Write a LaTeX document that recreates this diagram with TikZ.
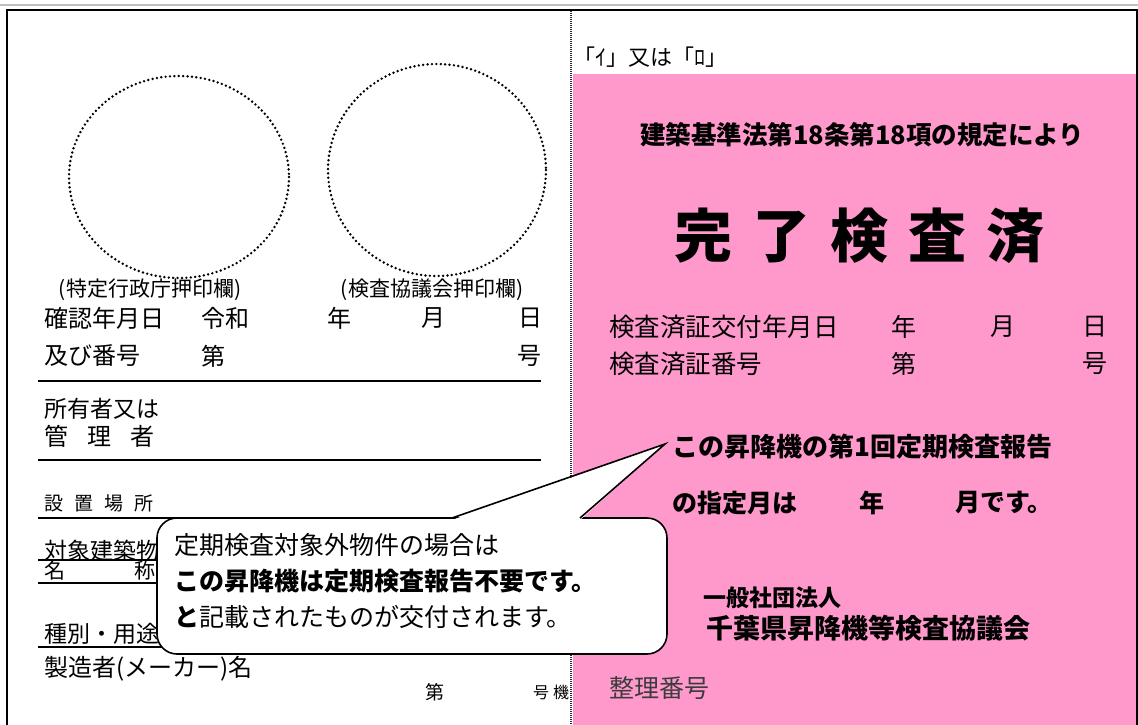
\documentclass[tikz,border=0pt]{standalone}
\usepackage{fontspec}
\setmainfont{Noto Sans CJK JP}
\definecolor{stamppink}{RGB}{255,153,204}
\definecolor{seirigray}{RGB}{60,60,60}
\newcommand\jsz[1]{\fontsize{#1}{#1}\selectfont}

\begin{document}
\begin{tikzpicture}[x=1pt,y=-1pt,
  lab/.style={anchor=west,inner sep=0pt},
  rule/.style={line width=1.2pt},
  seal/.style={line width=2.7pt,line cap=round,dash pattern=on 0pt off 4.4pt},
  notebox/.style={draw,fill=white,line width=1.6pt,rounded corners=20pt,
    minimum width=510pt,minimum height=136pt},
  notetext/.style={anchor=west,inner sep=0pt,align=left,
    font=\fontsize{25}{36}\selectfont}]
\useasboundingbox (0,0) rectangle (1138,725);
\fill[white] (0,0) rectangle (1138,725);
\fill[stamppink] (573,74) rectangle (1136,725);
\draw[black!25,line width=1.5pt] (0,5) -- (1138,5);
\draw[line width=2.2pt] (7,725) -- (7,10) -- (1137,10) -- (1137,725);
\draw[black!85,line width=1.4pt,dash pattern=on 1pt off 1pt] (571,11) -- (571,725);

% seal circles
\draw[seal] (179,177) ellipse [x radius=110,y radius=101];
\draw[seal] (437,170) ellipse [x radius=109,y radius=106];
\node (oshi1) at (150,290) {\jsz{21}(特定行政庁押印欄)};
\node (oshi2) at (432,290) {\jsz{21}(検査協議会押印欄)};

% left side
\node[lab] (kakunin) at (44,318) {\jsz{24}確認年月日};
\node[lab] (reiwa) at (201,318) {\jsz{24}令和};
\node[lab] (nen1) at (327,318) {\jsz{24}年};
\node[lab] (tsuki1) at (421,318) {\jsz{24}月};
\node[lab] (hi1) at (518,318) {\jsz{24}日};
\node[lab] (bango) at (44,356) {\jsz{24}及び番号};
\node[lab] (dai1) at (201,356) {\jsz{24}第};
\node[lab] (go1) at (517,356) {\jsz{24}号};
\draw[rule] (38,381) -- (541,381);
\node[lab] (shoyu) at (44,409) {\jsz{23}所有者又は};
\node[lab] (kanri) at (44,436) {\jsz{24}管\hspace{19pt}理\hspace{19pt}者};
\draw[rule] (38,460) -- (541,460);
\node[lab] (setchi) at (44,503) {\jsz{19}設\hspace{11pt}置\hspace{11pt}場\hspace{11pt}所};
\draw[rule] (38,518) -- (541,518);
\node[lab] (taisho) at (44,551) {\jsz{23}対象建築物};
\draw[rule] (38,560) -- (541,560);
\node[lab] (meisho) at (44,571) {\jsz{21}名\hspace{69pt}称};
\draw[rule] (38,583) -- (541,583);
\node[lab] (shubetsu) at (44,634) {\jsz{23}種別・用途};
\draw[rule] (38,647) -- (541,647);
\node[lab] (seizo) at (44,669) {\jsz{24}製造者(メーカー)名};
\node[lab] (dai2) at (425,692) {\jsz{19}第};
\node[lab] (goki) at (533,692) {\jsz{16}号\hspace{4pt}機};

% right side
\node[lab] (iro) at (573,57) {\jsz{22}「ｲ」又は「ﾛ」};
\node[lab] (kijun) at (640,135) {\jsz{25.5}\bfseries 建築基準法第18条第18項の規定により};
\node[lab] (kanryo) at (674,236) {\jsz{58}\bfseries 完\hspace{20pt}了\hspace{20pt}検\hspace{20pt}査\hspace{20pt}済};
\node[lab] (kofu) at (609,327) {\jsz{25.5}検査済証交付年月日};
\node[lab] (nen2) at (891,327) {\jsz{25}年};
\node[lab] (tsuki2) at (990,327) {\jsz{25}月};
\node[lab] (hi2) at (1082,327) {\jsz{25}日};
\node[lab] (shobango) at (609,364) {\jsz{25.5}検査済証番号};
\node[lab] (dai3) at (891,364) {\jsz{25}第};
\node[lab] (go3) at (1082,364) {\jsz{25}号};
\node[lab] (teiki) at (672,447) {\jsz{26}\bfseries この昇降機の第1回定期検査報告};
\node[lab] (shitei) at (672,503) {\jsz{25}\bfseries の指定月は};
\node[lab] (nen3) at (859,503) {\jsz{25}\bfseries 年};
\node[lab] (desu) at (955,503) {\jsz{25}\bfseries 月です。};
\node[lab] (ippan) at (703,598) {\jsz{23}\bfseries 一般社団法人};
\node[lab] (kyogikai) at (706,628) {\jsz{27}\bfseries 千葉県昇降機等検査協議会};
\node[lab,text=seirigray] (seiri) at (609,688) {\jsz{25}整理番号};

% callout
\node[notebox] (note) at (412,586) {};
\node[notetext] (notetext) at (174,581) {定期検査対象外物件の場合は\\
  \textbf{この昇降機は定期検査報告不要です。}\\
  \textbf{と}記載されたものが交付されます。};
\coordinate (tip) at (665,444);
\coordinate (pl) at (452,518);
\coordinate (pr) at (580,518);
\fill[white] ([yshift=-2pt]pl) -- (tip) -- ([yshift=-2pt]pr) -- cycle;
\draw[line width=1.6pt,line join=miter] (pl) -- (tip) -- (pr);
\end{tikzpicture}
\end{document}
